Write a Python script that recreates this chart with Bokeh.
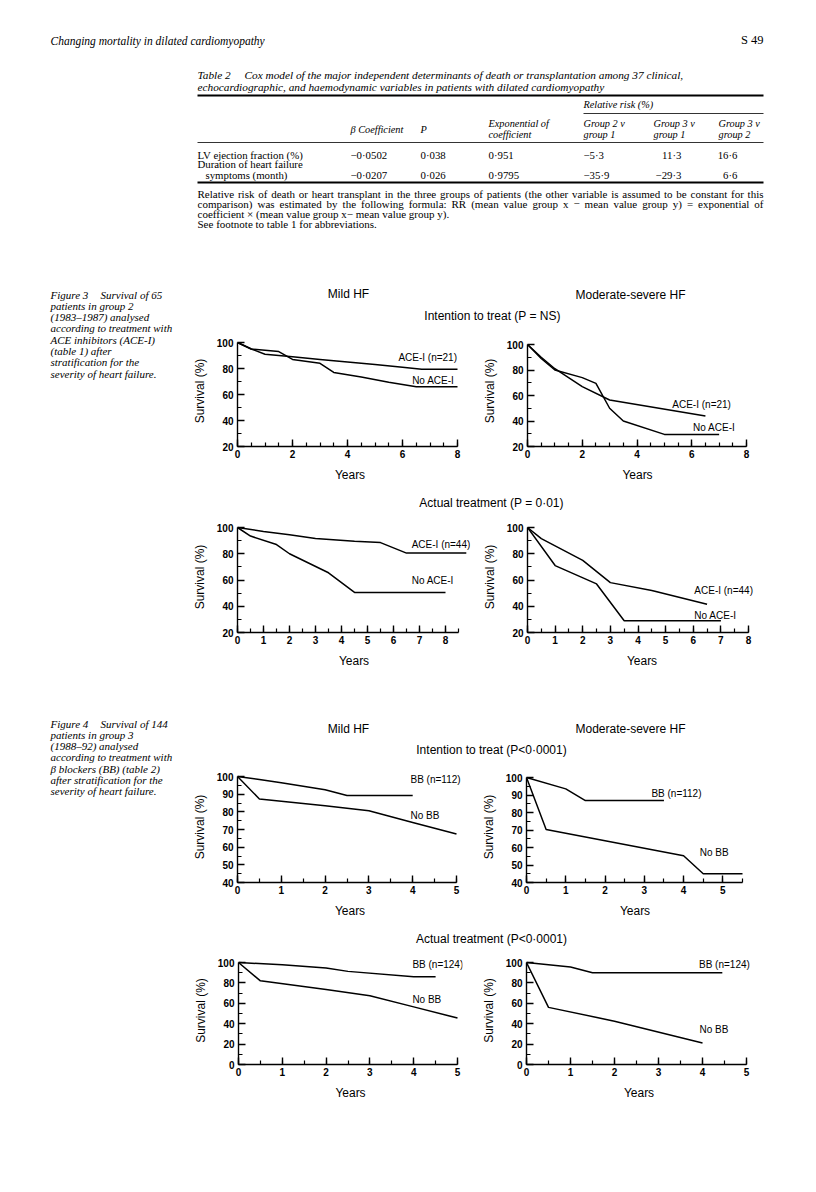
from bokeh.plotting import figure
from bokeh.models import Range1d, FixedTicker, ColumnDataSource, LabelSet, Spacer
from bokeh.layouts import row, column
from bokeh.embed import file_html
from bokeh.resources import INLINE
from bokeh.core.properties import value

SERIF = "Liberation Serif"
SANS = "Liberation Sans"

# ---------------- page / table text ----------------
page_header = "Changing mortality in dilated cardiomyopathy"
page_number = "S 49"
table_caption = [
    "Table 2    Cox model of the major independent determinants of death or transplantation among 37 clinical,",
    "echocardiographic, and haemodynamic variables in patients with dilated cardiomyopathy",
]
table_group_header = "Relative risk (%)"
table_col_headers = [
    ["β Coefficient"], ["P"], ["Exponential of", "coefficient"],
    ["Group 2 v", "group 1"], ["Group 3 v", "group 1"], ["Group 3 v", "group 2"],
]
table_row_labels = [["LV ejection fraction (%)"], ["Duration of heart failure", "symptoms (month)"]]
beta_coefficient = ["−0·0502", "−0·0207"]
p_value = ["0·038", "0·026"]
exp_coefficient = ["0·951", "0·9795"]
rr_group2_v_group1 = ["−5·3", "−35·9"]
rr_group3_v_group1 = ["11·3", "−29·3"]
rr_group3_v_group2 = ["16·6", "6·6"]
table_footnote = [
    "Relative risk of death or heart transplant in the three groups of patients (the other variable is assumed to be constant for this",
    "comparison) was estimated by the following formula: RR (mean value group x − mean value group y) = exponential of",
    "coefficient × (mean value group x− mean value group y).",
    "See footnote to table 1 for abbreviations.",
]

fig3_caption = [
    "Figure 3    Survival of 65", "patients in group 2", "(1983–1987) analysed",
    "according to treatment with", "ACE inhibitors (ACE-I)", "(table 1) after",
    "stratification for the", "severity of heart failure.",
]
fig4_caption = [
    "Figure 4    Survival of 144", "patients in group 3", "(1988–92) analysed",
    "according to treatment with", "β blockers (BB) (table 2)", "after stratification for the",
    "severity of heart failure.",
]
column_titles = ["Mild HF", "Moderate-severe HF"]
fig3_row_titles = ["Intention to treat (P = NS)", "Actual treatment (P = 0·01)"]
fig4_row_titles = ["Intention to treat (P<0·0001)", "Actual treatment (P<0·0001)"]
x_axis_title = "Years"
y_axis_title = "Survival (%)"

# ---------------- survival data ----------------
# Figure 3, intention to treat, mild HF
f3_itt_mild_ace_years = [0, 0.5, 1, 1.5, 2, 3, 4, 5, 6, 6.7, 8]
f3_itt_mild_ace_surv = [100, 95, 91, 90, 89, 87, 85, 83, 81, 79.5, 79.5]
f3_itt_mild_no_years = [0, 0.5, 1, 1.5, 2, 3, 3.5, 4.5, 5.5, 6.5, 8]
f3_itt_mild_no_surv = [100, 95, 94, 93, 87, 84, 77, 73.5, 69.5, 66, 66]
# Figure 3, intention to treat, moderate-severe HF
f3_itt_sev_ace_years = [0, 0.5, 1, 2, 3, 6.5]
f3_itt_sev_ace_surv = [100, 90, 81, 67, 56.5, 44]
f3_itt_sev_no_years = [0, 0.5, 1, 2, 2.5, 3, 3.5, 5, 7]
f3_itt_sev_no_surv = [100, 89, 80, 74, 69.5, 50, 40, 29.5, 29.5]
# Figure 3, actual treatment, mild HF
f3_act_mild_ace_years = [0, 1, 2, 3, 4.5, 5.5, 6.5, 8.8]
f3_act_mild_ace_surv = [100, 97, 94.4, 91.7, 89.5, 88.5, 80.5, 80.5]
f3_act_mild_no_years = [0, 0.5, 1.5, 2, 3.5, 4.5, 8]
f3_act_mild_no_surv = [100, 93.5, 87, 80, 65.5, 50.5, 50.5]
# Figure 3, actual treatment, moderate-severe HF
f3_act_sev_ace_years = [0, 0.5, 2, 3, 4.5, 6.5]
f3_act_sev_ace_surv = [100, 91.5, 75, 58, 52, 41.5]
f3_act_sev_no_years = [0, 1, 2.5, 3.5, 7]
f3_act_sev_no_surv = [100, 71, 57, 29, 29]
# Figure 4, intention to treat, mild HF
f4_itt_mild_bb_years = [0, 0.5, 1, 2, 2.5, 4]
f4_itt_mild_bb_surv = [100, 98.3, 96.5, 92.5, 89.3, 89.3]
f4_itt_mild_no_years = [0, 0.5, 2, 3, 4, 5]
f4_itt_mild_no_surv = [100, 87.3, 83.5, 80.6, 74, 67.4]
# Figure 4, intention to treat, moderate-severe HF
f4_itt_sev_bb_years = [0, 1, 1.5, 3.5]
f4_itt_sev_bb_surv = [100, 93.5, 86.8, 86.8]
f4_itt_sev_no_years = [0, 0.5, 4, 4.5, 5.5]
f4_itt_sev_no_surv = [100, 70.3, 55.3, 45, 45]
# Figure 4, actual treatment, mild HF
f4_act_mild_bb_years = [0, 1, 2, 2.5, 4, 4.5]
f4_act_mild_bb_surv = [100, 97.8, 94.5, 91.3, 86, 86]
f4_act_mild_no_years = [0, 0.5, 2, 3, 4, 5]
f4_act_mild_no_surv = [100, 82, 73.5, 67.5, 56.5, 45.5]
# Figure 4, actual treatment, moderate-severe HF
f4_act_sev_bb_years = [0, 1, 1.5, 4.45]
f4_act_sev_bb_surv = [100, 95.5, 90, 90]
f4_act_sev_no_years = [0, 0.5, 2, 4]
f4_act_sev_no_surv = [100, 56, 42.5, 21]

# curve labels
ace21 = ["ACE-I (n=21)", "No ACE-I"]
ace44 = ["ACE-I (n=44)", "No ACE-I"]
bb112 = ["BB (n=112)", "No BB"]
bb124 = ["BB (n=124)", "No BB"]

# tick values
f3_itt_xticks = [0, 2, 4, 6, 8]
f3_act_xticks = [0, 1, 2, 3, 4, 5, 6, 7, 8]
f3_yticks = [20, 40, 60, 80, 100]
f4_xticks = [0, 1, 2, 3, 4, 5]
f4_itt_yticks = [40, 50, 60, 70, 80, 90, 100]
f4_act_yticks = [0, 20, 40, 60, 80, 100]

# approximate Times-Roman advance widths (1/1000 em), used only to justify footnote lines
_TW = {" ": 250, "(": 333, ")": 333, ",": 250, "-": 333, ".": 250, ":": 278, "=": 564, "×": 564,
       "−": 564, "%": 833, "R": 667, "S": 556, "T": 611,
       "a": 444, "b": 500, "c": 444, "d": 500, "e": 444, "f": 333, "g": 500, "h": 500, "i": 278,
       "j": 278, "k": 500, "l": 278, "m": 778, "n": 500, "o": 500, "p": 500, "q": 500, "r": 333,
       "s": 389, "t": 278, "u": 500, "v": 500, "w": 722, "x": 500, "y": 500, "z": 444}


def text_width(s, size):
    return sum(_TW.get(c, 500) for c in s) * size / 1000.0


def halves(end):
    return [i * 0.5 for i in range(int(round(end * 2)) + 1)]


def canvas(w, h, x0, y0):
    p = figure(width=w, height=h, x_range=Range1d(x0, x0 + w), y_range=Range1d(y0 + h, y0),
               output_backend="svg", toolbar_location=None, x_axis_type=None, y_axis_type=None,
               min_border=0)
    p.outline_line_color = None
    p.background_fill_color = "white"
    p.border_fill_color = "white"
    return p


def put_text(p, xs, ys, texts, font=SERIF, size="11px", style="normal", align="left"):
    p.text(x=xs, y=ys, text=texts, text_font=value(font), text_font_size=size,
           text_font_style=style, text_align=align, text_baseline="middle", text_color="black")


def put_justified(p, line, x0, x1, y, size):
    words = line.split(" ")
    widths = [text_width(w, size) for w in words]
    gap = (x1 - x0 - sum(widths)) / (len(words) - 1)
    xs, x = [], x0
    for w in widths:
        xs.append(x)
        x += w + gap
    put_text(p, xs, [y] * len(words), words, size=f"{size}px")


def put_caption(p, lines, x0, x_second, y0, dy, size):
    # first line: figure/table number and title separated by a wide gap
    head, rest = lines[0].split("    ")
    put_text(p, [x0, x_second], [y0, y0], [head, rest], style="italic", size=size)
    if len(lines) > 1:
        put_text(p, [x0] * (len(lines) - 1), [y0 + dy * (i + 1) for i in range(len(lines) - 1)],
                 lines[1:], style="italic", size=size)


def km_panel(w, h, left, ax_w, top, ax_h, ext_r, xend, yr, xt, xm, yt, ym, curves, labels, label_pos):
    # the axes occupy ax_w x ax_h pixels; the frame is extended a little to the right (ext_r)
    # and to the top so that curve labels are not clipped, while the axes keep their bounds.
    ext_t = top - 1
    y0, y1 = yr
    x_hi = xend * (ax_w + ext_r) / ax_w
    y_hi = y1 + (y1 - y0) * ext_t / ax_h
    p = figure(width=w, height=h, x_range=Range1d(0, x_hi), y_range=Range1d(y0, y_hi),
               output_backend="svg", toolbar_location=None,
               min_border_left=left, min_border_right=w - left - ax_w - ext_r, min_border_top=1,
               min_border_bottom=h - top - ax_h)
    p.grid.visible = False
    p.outline_line_color = None
    p.xaxis.bounds = (0, xend)
    p.yaxis.bounds = (y0, y1)
    for ax in (p.xaxis[0], p.yaxis[0]):
        ax.axis_line_width = 1.4
        ax.axis_line_color = "black"
        ax.major_tick_in = 7
        ax.major_tick_out = 0
        ax.minor_tick_in = 4
        ax.minor_tick_out = 0
        ax.major_tick_line_width = 1.4
        ax.minor_tick_line_width = 1.2
        ax.major_tick_line_color = "black"
        ax.minor_tick_line_color = "black"
        ax.major_label_text_font = SANS
        ax.major_label_text_font_style = "bold"
        ax.major_label_text_font_size = "10px"
        ax.major_label_text_color = "black"
        ax.axis_label_text_font = SANS
        ax.axis_label_text_font_style = "normal"
        ax.axis_label_text_font_size = "12px"
        ax.axis_label_text_color = "black"
    p.xaxis.ticker = FixedTicker(ticks=xt, minor_ticks=xm)
    p.yaxis.ticker = FixedTicker(ticks=yt, minor_ticks=ym)
    p.xaxis.axis_label = x_axis_title
    p.yaxis.axis_label = y_axis_title
    p.xaxis.major_label_standoff = 3
    p.xaxis.axis_label_standoff = 7
    p.yaxis.major_label_standoff = 4
    p.yaxis.axis_label_standoff = 7
    for xs, ys in curves:
        p.line(xs, ys, line_color="black", line_width=1.5)
    src = ColumnDataSource(dict(x=[q[0] for q in label_pos], y=[q[1] for q in label_pos], text=labels))
    p.add_layout(LabelSet(x="x", y="y", text="text", source=src, text_font=value(SANS),
                          text_font_size="10px", text_baseline="middle", text_align="left",
                          text_color="black"))
    return p


# ---------------- header + table ----------------
TL, TR = 197, 763
top = canvas(800, 272, 8, 8)
put_text(top, [50], [40], [page_header], style="italic", size="11.5px")
put_text(top, [TR], [39], [page_number], size="12.5px", align="right")
put_caption(top, table_caption, TL, 244, 74, 12, "11.3px")
top.segment(x0=[TL, 583, TL, TL], y0=[95, 113, 142, 182], x1=[TR, TR, TR, TR],
            y1=[95, 113, 142, 182], line_color="black", line_width=[2, 0.8, 0.8, 2])
put_text(top, [583], [104], [table_group_header], style="italic", size="10.3px")
col_x = [350, 420, 488, 583, 653, 718]
for cx, hdr in zip(col_x, table_col_headers):
    ys = [129] if len(hdr) == 1 else [123, 134]
    put_text(top, [cx] * len(hdr), ys, hdr, style="italic", size="10.3px")
put_text(top, [TL, TL, 205], [154, 163, 174], table_row_labels[0] + table_row_labels[1], size="10.8px")
row_y = [154, 174]
put_text(top, [350, 350], row_y, beta_coefficient, size="10.8px")
put_text(top, [420, 420], row_y, p_value, size="10.8px")
put_text(top, [488, 488], row_y, exp_coefficient, size="10.8px")
put_text(top, [583, 583], row_y, rr_group2_v_group1, size="10.8px")
put_text(top, [681, 681], row_y, rr_group3_v_group1, align="right", size="10.8px")
put_text(top, [737, 737], row_y, rr_group3_v_group2, align="right", size="10.8px")
put_justified(top, table_footnote[0], TL, TR, 193, 11)
put_justified(top, table_footnote[1], TL, TR, 203, 11)
put_text(top, [TL, TL], [213, 223], table_footnote[2:], size="11px")

# ---------------- Figure 3 ----------------
cap3 = canvas(177, 400, 8, 280)
put_caption(cap3, fig3_caption, 50, 100, 294, 11.3, "11px")
stripA = canvas(623, 54, 185, 280)
put_text(stripA, [348, 630], [293, 294], column_titles, font=SANS, size="12px", align="center")
put_text(stripA, [492], [315], [fig3_row_titles[0]], font=SANS, size="12px", align="center")
stripB = canvas(623, 30, 185, 490)
put_text(stripB, [491], [502], [fig3_row_titles[1]], font=SANS, size="12px", align="center")

p3a = km_panel(293, 156, 52, 220, 8, 104, 5, 8, (20, 100), f3_itt_xticks, halves(8), f3_yticks, [30, 50, 70, 90],
               [(f3_itt_mild_ace_years, f3_itt_mild_ace_surv), (f3_itt_mild_no_years, f3_itt_mild_no_surv)],
               ace21, [(5.85, 88.3), (6.35, 70.8)])
p3b = km_panel(330, 156, 49, 219, 10, 102, 1, 8, (20, 100), f3_itt_xticks, halves(8), f3_yticks, [30, 50, 70, 90],
               [(f3_itt_sev_ace_years, f3_itt_sev_ace_surv), (f3_itt_sev_no_years, f3_itt_sev_no_surv)],
               ace21, [(5.29, 52.8), (6.05, 35.2)])
p3c = km_panel(293, 160, 52, 221, 7, 105, 12, 8.5, (20, 100), f3_act_xticks, halves(8.5), f3_yticks, [30, 50, 70, 90],
               [(f3_act_mild_ace_years, f3_act_mild_ace_surv), (f3_act_mild_no_years, f3_act_mild_no_surv)],
               ace44, [(6.7, 86.8), (6.7, 59.4)])
p3d = km_panel(330, 160, 49, 221, 7, 105, 8, 8, (20, 100), f3_act_xticks, halves(8), f3_yticks, [30, 50, 70, 90],
               [(f3_act_sev_ace_years, f3_act_sev_ace_surv), (f3_act_sev_no_years, f3_act_sev_no_surv)],
               ace44, [(6.04, 51.8), (6.04, 33.2)])
sec3 = row(cap3, column(stripA, row(p3a, p3b), stripB, row(p3c, p3d)))

# ---------------- Figure 4 ----------------
cap4 = canvas(177, 430, 8, 680)
put_caption(cap4, fig4_caption, 50, 100, 723, 11.3, "11px")
stripC = canvas(623, 90, 185, 680)
put_text(stripC, [348, 630], [728, 728], column_titles, font=SANS, size="12px", align="center")
put_text(stripC, [491], [749], [fig4_row_titles[0]], font=SANS, size="12px", align="center")
stripD = canvas(623, 30, 185, 925)
put_text(stripD, [491], [938], [fig4_row_titles[1]], font=SANS, size="12px", align="center")

p4a = km_panel(293, 155, 52, 219, 6, 106, 6, 5, (40, 100), f4_xticks, halves(5), f4_itt_yticks, [45, 55, 65, 75, 85, 95],
               [(f4_itt_mild_bb_years, f4_itt_mild_bb_surv), (f4_itt_mild_no_years, f4_itt_mild_no_surv)],
               bb112, [(3.95, 98.1), (3.95, 77.8)])
p4b = km_panel(330, 155, 47, 217, 7, 105, 1, 5.5, (40, 100), f4_xticks, halves(5.5), f4_itt_yticks, [45, 55, 65, 75, 85, 95],
               [(f4_itt_sev_bb_years, f4_itt_sev_bb_surv), (f4_itt_sev_no_years, f4_itt_sev_no_surv)],
               bb112, [(3.18, 91), (4.41, 57.1)])
p4c = km_panel(293, 155, 53, 219, 7, 102, 5, 5, (0, 100), f4_xticks, halves(5), f4_act_yticks, [10, 30, 50, 70, 90],
               [(f4_act_mild_bb_years, f4_act_mild_bb_surv), (f4_act_mild_no_years, f4_act_mild_no_surv)],
               bb124, [(3.97, 97.8), (3.97, 64.2)])
p4d = km_panel(330, 155, 47, 221, 7, 102, 5, 5, (0, 100), f4_xticks, halves(5), f4_act_yticks, [10, 30, 50, 70, 90],
               [(f4_act_sev_bb_years, f4_act_sev_bb_surv), (f4_act_sev_no_years, f4_act_sev_no_surv)],
               bb124, [(3.92, 98), (3.93, 33.9)])
sec4 = row(cap4, column(stripC, row(p4a, p4b), stripD, row(p4c, p4d)))

page = row(Spacer(width=8, height=10), column(Spacer(width=10, height=8), top, sec3, sec4))
open("out.html", "w").write(file_html(page, INLINE, title="Changing mortality in dilated cardiomyopathy"))
